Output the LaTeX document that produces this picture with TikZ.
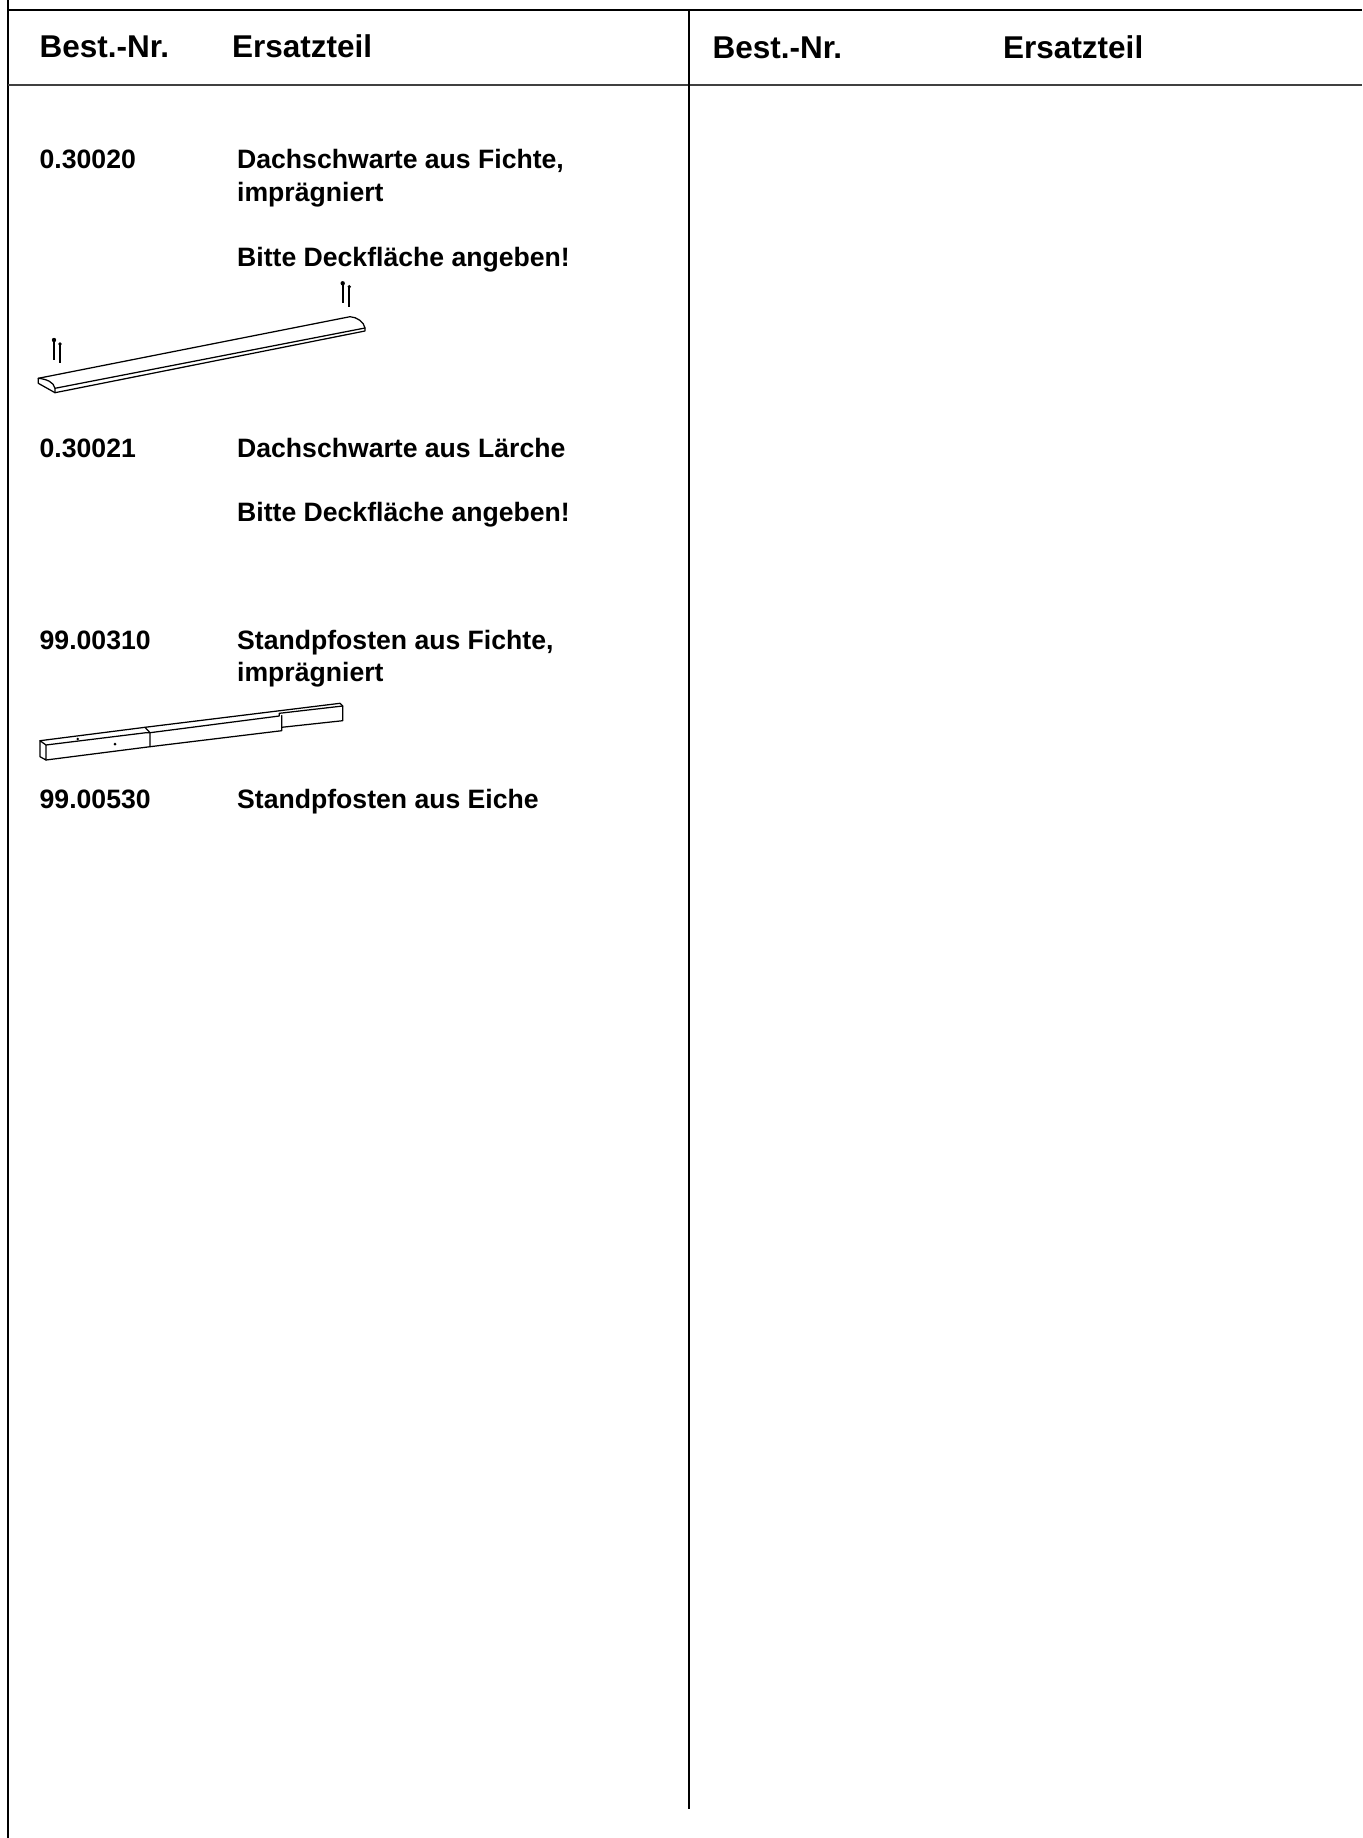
\documentclass[tikz,border=0pt]{standalone}
\usepackage{fontspec}
\setmainfont{Liberation Sans}
\tikzset{
 rule/.style={line width=1.1pt,black},
 part/.style={line width=1.25pt,black,line join=round,line cap=round},
 nail/.style={line width=2.2pt,black},
 head/.style={anchor=base west,inner sep=0pt,font=\fontsize{31.5}{31.5}\selectfont\bfseries},
 item/.style={anchor=base west,inner sep=0pt,font=\fontsize{26.6}{26.6}\selectfont\bfseries},
}
\begin{document}
\begin{tikzpicture}[x=1pt,y=-1pt]
\useasboundingbox (0,0) rectangle (1362,1838);
% frame
\draw[rule] (8,0) -- (8,1838);
\draw[rule] (8,10) -- (1362,10);
\draw[rule,line width=1.5pt,black!75] (8,85) -- (1362,85);
\draw[rule] (689,10) -- (689,1809);
% header
\node[head] (h1) at (39.5,57.5) {Best.-Nr.};
\node[head] (h2) at (232,57.5) {Ersatzteil};
\node[head] (h3) at (712.5,58.5) {Best.-Nr.};
\node[head] (h4) at (1003,58.5) {Ersatzteil};
% items
\node[item] (n1) at (39.5,169) {0.30020};
\node[item] (t1) at (237,169) {Dachschwarte aus Fichte,};
\node[item] (t1b) at (237,201) {imprägniert};
\node[item] (t1c) at (237,266) {Bitte Deckfläche angeben!};
\node[item] (n2) at (39.5,457) {0.30021};
\node[item] (t2) at (237,457) {Dachschwarte aus Lärche};
\node[item] (t2c) at (237,521) {Bitte Deckfläche angeben!};
\node[item] (n3) at (39.5,649) {99.00310};
\node[item] (t3) at (237,649) {Standpfosten aus Fichte,};
\node[item] (t3b) at (237,681) {imprägniert};
\node[item] (n4) at (39.5,808) {99.00530};
\node[item] (t4) at (237,808) {Standpfosten aus Eiche};
% plank
\draw[part] (38.3,378.3) -- (350,316.7) .. controls (357,317) and (364,322) .. (365,328) -- (365,331) -- (55,392.7) -- (38.3,383.3) -- cycle;
\draw[part] (38.3,378.3) .. controls (46,379) and (54,382) .. (55,388.3) -- (55,392.7);
\draw[part] (55,388.3) -- (365,328);
\draw[nail] (54,340) -- (54,360);
\draw[nail] (60,344) -- (60,363);
\draw[nail] (342.7,283.3) -- (342.7,302.7);
\draw[nail] (349.3,286.7) -- (349.3,306.7);
\fill (54,340) circle (2.2pt) (60,344) circle (1.8pt) (342.7,283.3) circle (2.2pt) (349.3,286.7) circle (1.8pt);
% post
\draw[part] (40,740.7) -- (145,727.3) -- (340,703.3) -- (342.7,706) -- (342.7,720.7) -- (281.7,727.3);
\draw[part] (40,740.7) -- (40,756.7) -- (46,760) -- (46,745) -- cycle;
\draw[part] (46,745) -- (146,732.7) -- (150,732.7) -- (279.3,716) -- (279.3,713.3) -- (342.7,706);
\draw[part] (46,760) -- (150,746.7) -- (281.7,730.7) -- (281.7,715.5);
\draw[part] (145,727.3) -- (150,732.7) -- (150,746.7);
\fill (77.7,739) circle (1.4pt) (115,744) circle (1.5pt);
\end{tikzpicture}
\end{document}
